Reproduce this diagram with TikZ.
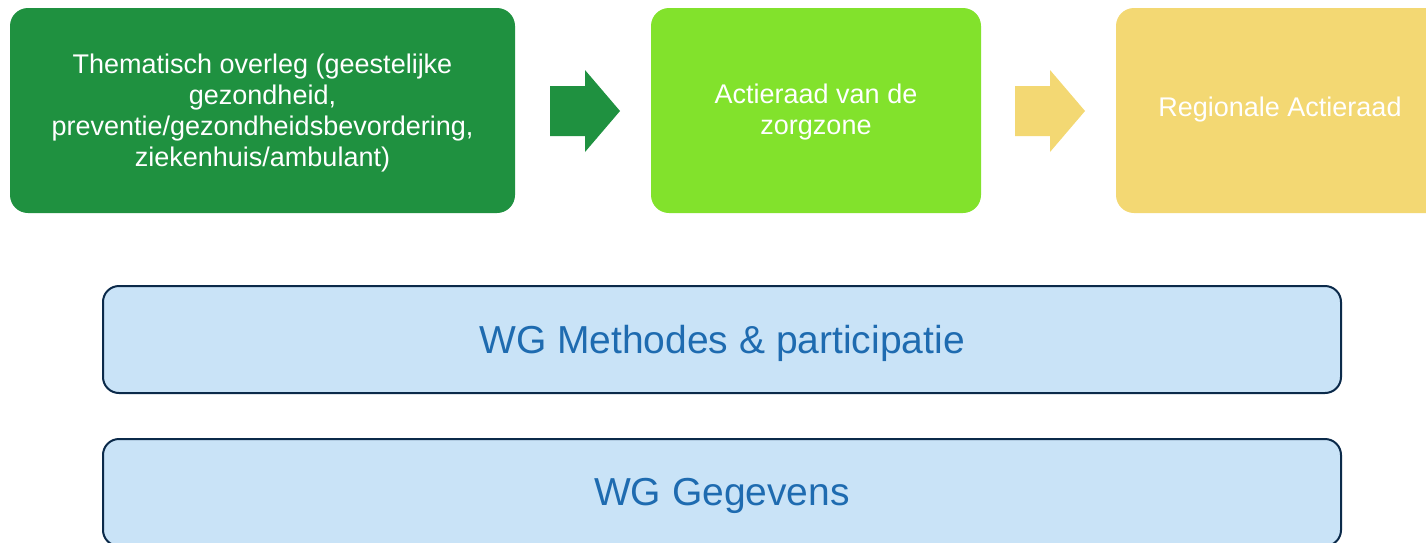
\documentclass[tikz,border=0pt]{standalone}
\usepackage{fontspec}
\setmainfont{Liberation Sans}
\definecolor{dkgreen}{HTML}{1F9140}
\definecolor{lime}{HTML}{82E22C}
\definecolor{ylw}{HTML}{F3D873}
\definecolor{ltblue}{HTML}{C9E3F7}
\definecolor{navy}{HTML}{0B2A4A}
\definecolor{txtblue}{HTML}{1E6BB0}
\begin{document}
\begin{tikzpicture}[x=1pt,y=-1pt,
  topbox/.style={text=white, align=center, font=\fontsize{27}{31}\selectfont},
  wgbox/.style={draw=navy, line width=2pt, fill=ltblue, rounded corners=16pt},
  wgtext/.style={text=txtblue, font=\fontsize{39}{44}\selectfont}]
\useasboundingbox (0,0) rectangle (1426,542);
\clip (0,0) rectangle (1426,542);
\fill[dkgreen, rounded corners=18pt] (10,8) rectangle (515,213);
\node[topbox] (b1) at (262.5,113) {Thematisch overleg (geestelijke\\gezondheid,\\preventie/gezondheidsbevordering,\\ziekenhuis/ambulant)};
\fill[lime, rounded corners=18pt] (651,8) rectangle (981,213);
\node[topbox] (b2) at (816,112) {Actieraad van de\\zorgzone};
\fill[ylw, rounded corners=18pt] (1116,8) rectangle (1446,213);
\node[topbox] (b3) at (1280,110) {Regionale Actieraad};
% block arrows
\fill[dkgreen] (550,86) -- (585,86) -- (585,70) -- (620,111) -- (585,152) -- (585,136) -- (550,136) -- cycle;
\fill[ylw] (1015,86) -- (1050,86) -- (1050,70) -- (1085,111) -- (1050,152) -- (1050,136) -- (1015,136) -- cycle;
% working groups
\draw[wgbox] (103,286) rectangle (1341,393);
\node[wgtext] (w1) at (722,343) {WG Methodes \& participatie};
\draw[wgbox] (103,439) rectangle (1341,546);
\node[wgtext] (w2) at (722,496) {WG Gegevens};
\end{tikzpicture}
\end{document}
